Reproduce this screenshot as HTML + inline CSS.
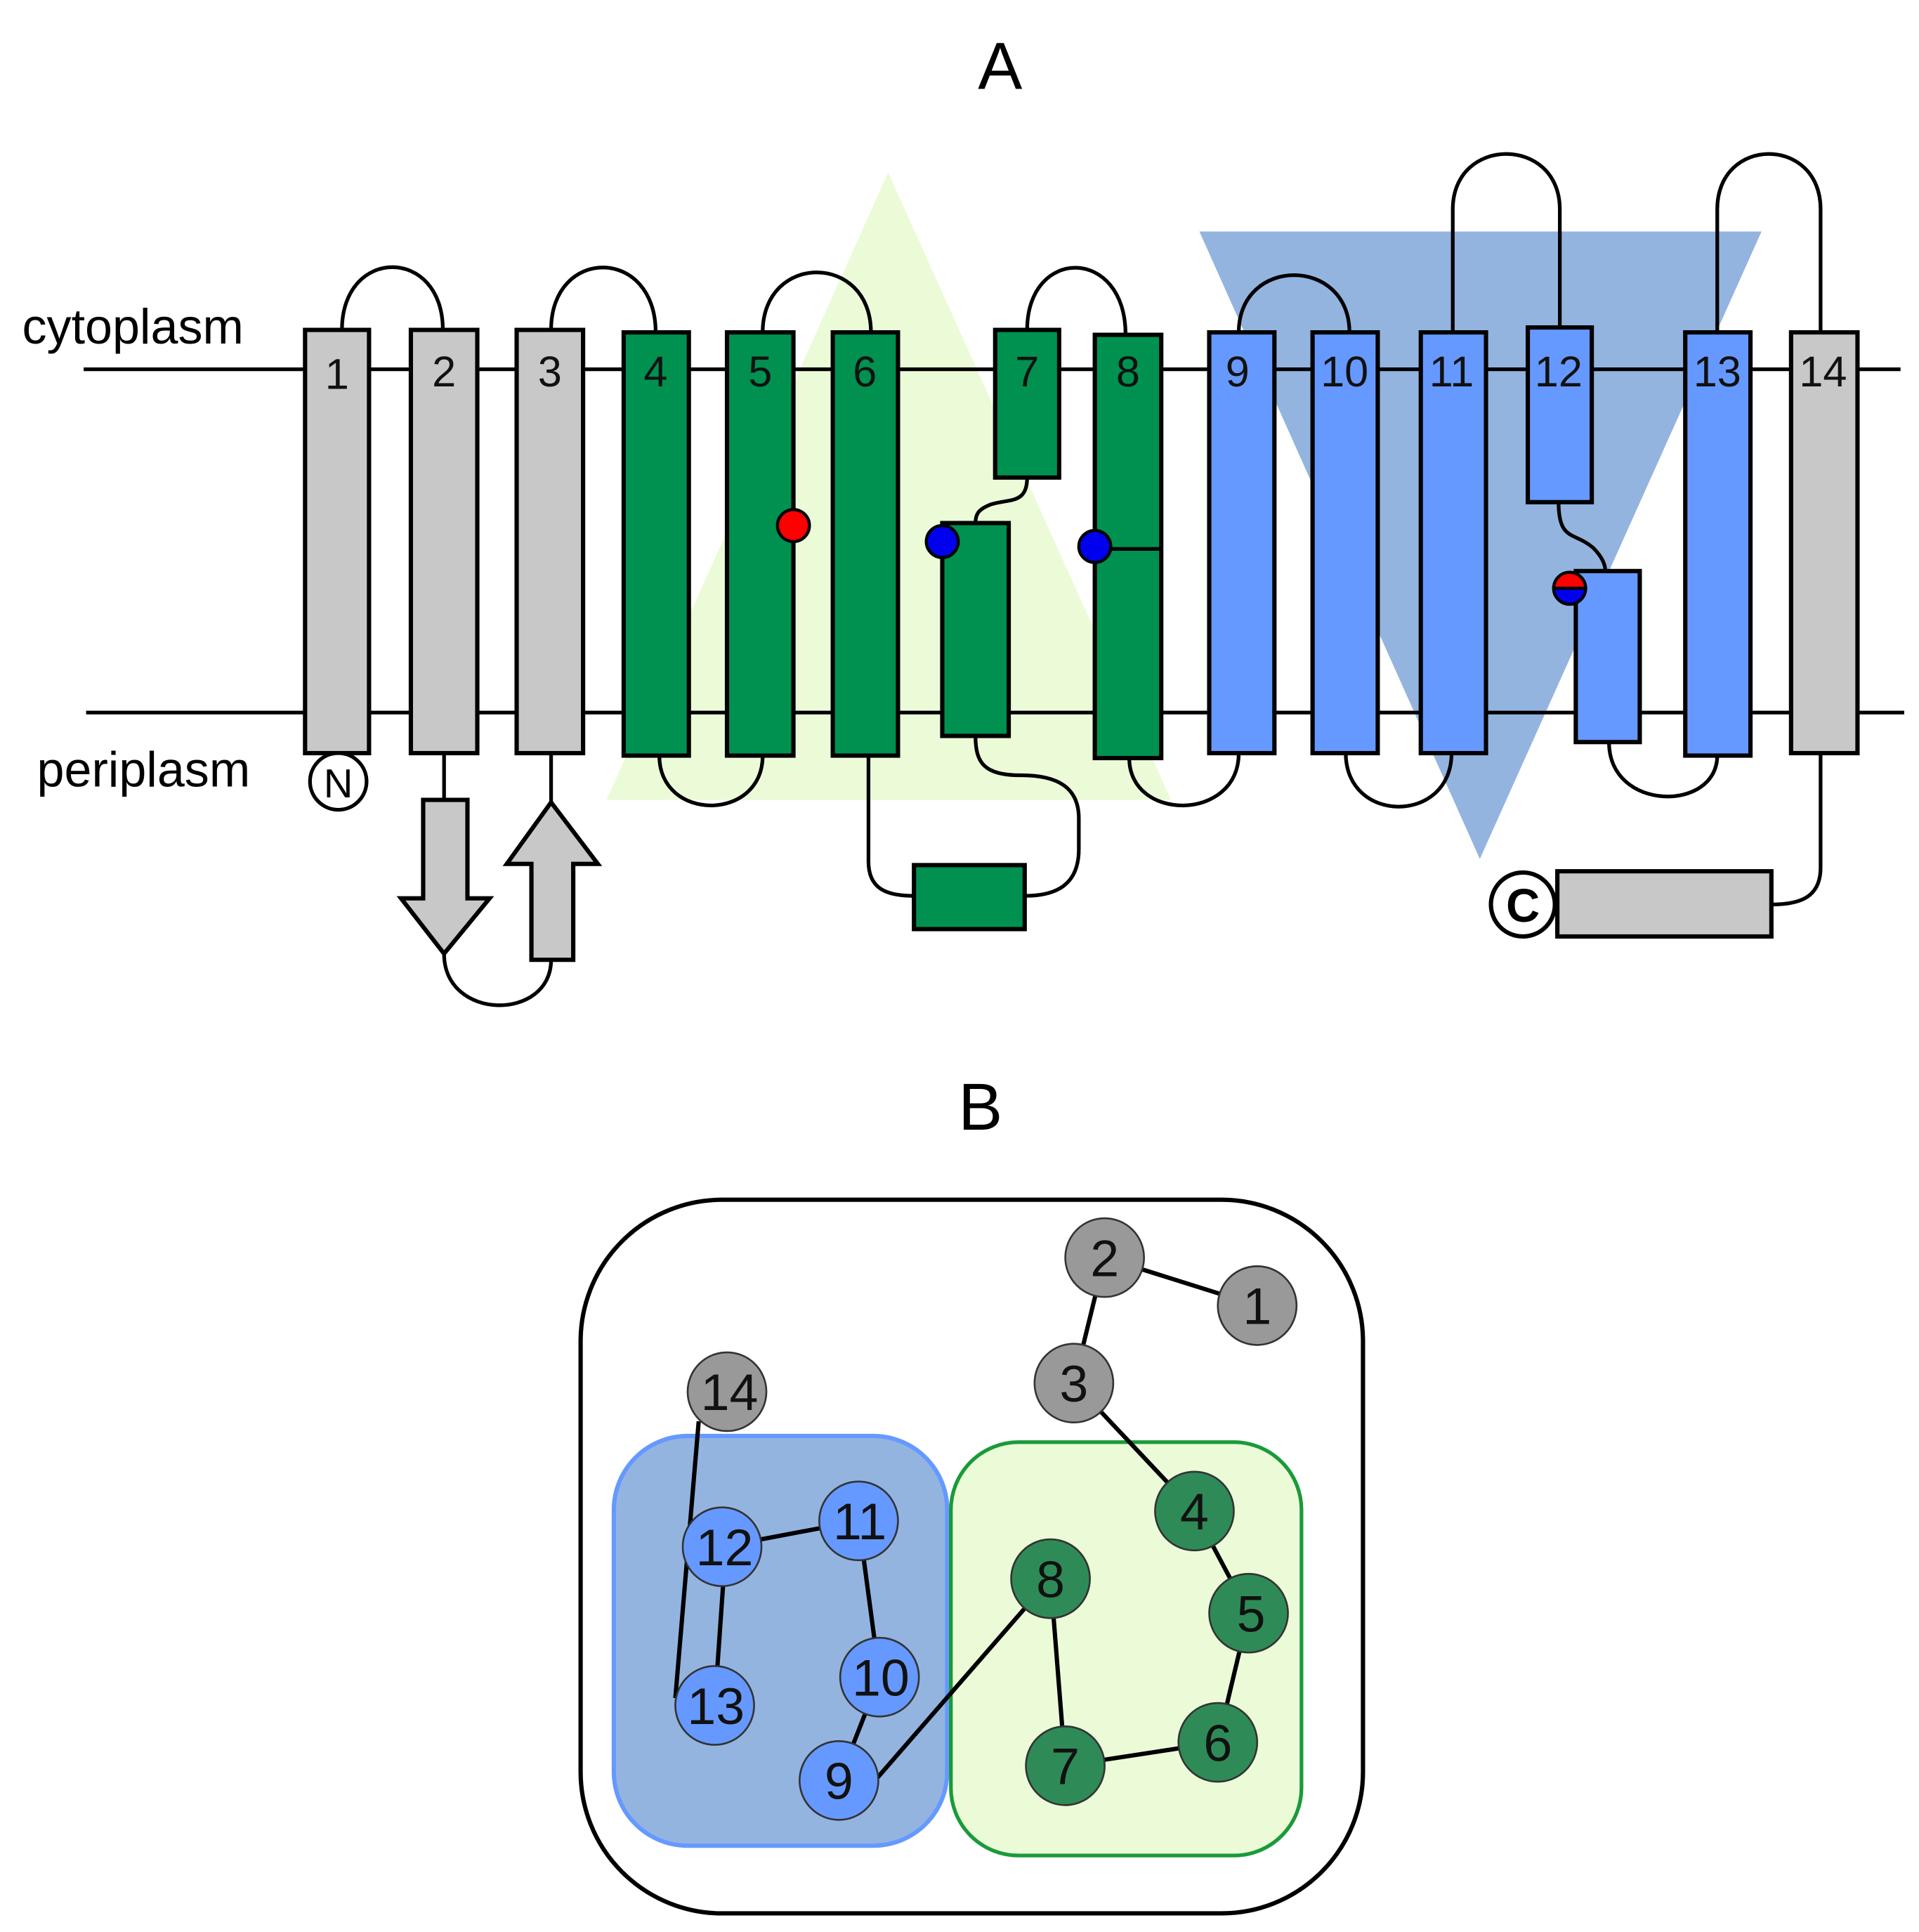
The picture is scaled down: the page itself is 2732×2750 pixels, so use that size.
<!DOCTYPE html>
<html><head><meta charset="utf-8"><style>html,body{margin:0;padding:0;background:#fff}svg{display:block}</style></head>
<body>
<svg width="2732" height="2750" viewBox="0 0 1560 1570" xmlns="http://www.w3.org/2000/svg" font-family="Liberation Sans, sans-serif">
<rect width="1560" height="1570" fill="#fff"/>
<text x="813" y="72" font-size="54" text-anchor="middle">A</text>
<text x="797" y="918" font-size="54" text-anchor="middle">B</text>
<polygon points="722,140 493,650 952,650" fill="#ebfbd8"/>
<polygon points="975,188 1432,188 1203,698" fill="#94b4e0"/>
<g stroke="#000" stroke-width="3" fill="none">
<line x1="68" y1="300" x2="1545" y2="300"/>
<line x1="70" y1="579" x2="1548" y2="579"/>
</g>
<text x="18" y="279" font-size="40">cytoplasm</text>
<text x="30" y="639" font-size="40">periplasm</text>
<g stroke="#000" stroke-width="3" fill="none">
<path d="M278,268 C278,200 360,200 360,268"/>
<path d="M448,268 C448,200 533,200 533,270"/>
<path d="M620,270 C620,205 708,205 708,270"/>
<path d="M835,268 C835,200 915,200 915,272"/>
<path d="M1007,270 C1007,208 1097,208 1097,270"/>
<path d="M1181,270 L1181,170 C1181,110 1268,110 1268,170 L1268,266"/>
<path d="M1396,270 L1396,170 C1396,110 1480,110 1480,170 L1480,270"/>
<path d="M536,614 C536,668 620,668 620,614"/>
<path d="M918,616 C918,668 1007,668 1007,612"/>
<path d="M1094,612 C1094,670 1180,670 1180,612"/>
<path d="M1308,603 C1308,660 1396,660 1396,614"/>
<path d="M706,614 L706,700 C706,722 720,728 743,728"/>
<path d="M833,728 C860,728 877,718 877,690 L877,665 C877,640 860,630 830,630 C800,630 793,620 793,598"/>
<path d="M835,388 C835,410 820,405 805,410 C795,414 793,418 793,425"/>
<path d="M1267,408 C1267,440 1280,432 1295,445 C1302,452 1305,458 1305,464"/>
<path d="M1480,612 L1480,705 C1480,728 1465,735 1440,735"/>
<path d="M361,612 L361,650"/>
<path d="M448,612 L448,652"/>
<path d="M361,775 C361,830 448,830 448,780"/>
</g>
<g stroke="#000" stroke-width="3.5">
<rect x="248" y="268" width="52" height="344" fill="#c8c8c8"/>
<rect x="334" y="268" width="54" height="344" fill="#c8c8c8"/>
<rect x="420" y="268" width="54" height="344" fill="#c8c8c8"/>
<rect x="507" y="270" width="53" height="344" fill="#009150"/>
<rect x="591" y="270" width="54" height="344" fill="#009150"/>
<rect x="677" y="270" width="53" height="344" fill="#009150"/>
<rect x="809" y="268" width="52" height="120" fill="#009150"/>
<rect x="766" y="425" width="54" height="173" fill="#009150"/>
<rect x="890" y="272" width="54" height="344" fill="#009150"/>
<rect x="743" y="703" width="90" height="52" fill="#009150"/>
<rect x="983" y="270" width="53" height="342" fill="#6699ff"/>
<rect x="1067" y="270" width="53" height="342" fill="#6699ff"/>
<rect x="1155" y="270" width="53" height="342" fill="#6699ff"/>
<rect x="1242" y="266" width="52" height="142" fill="#6699ff"/>
<rect x="1281" y="464" width="52" height="139" fill="#6699ff"/>
<rect x="1370" y="270" width="53" height="344" fill="#6699ff"/>
<rect x="1456" y="270" width="54" height="342" fill="#c8c8c8"/>
<rect x="1266" y="708" width="174" height="53" fill="#c8c8c8"/>
<polygon points="344,650 380,650 380,730 398,730 361,775 326,730 344,730" fill="#c8c8c8"/>
<polygon points="448,652 486,702 466,702 466,780 432,780 432,702 412,702" fill="#c8c8c8"/>
</g>
<line x1="890" y1="446" x2="944" y2="446" stroke="#000" stroke-width="3"/>
<g font-size="35" text-anchor="middle" fill="#111">
<text x="274" y="316">1</text><text x="361" y="314">2</text><text x="447" y="314">3</text>
<text x="533" y="314">4</text><text x="618" y="314">5</text><text x="703" y="314">6</text>
<text x="835" y="314">7</text><text x="917" y="314">8</text><text x="1006" y="314">9</text>
<text x="1093" y="314">10</text><text x="1180" y="314">11</text><text x="1267" y="314">12</text>
<text x="1396" y="314">13</text><text x="1482" y="314">14</text>
</g>
<g stroke="#000" stroke-width="2.5">
<circle cx="645" cy="427" r="13" fill="#ff0000"/>
<circle cx="766" cy="440" r="13" fill="#0000ee"/>
<circle cx="890" cy="444" r="13" fill="#0000ee"/>
<path d="M1263,478 A13,13 0 0 1 1289,478 Z" fill="#ff0000"/>
<path d="M1263,478 A13,13 0 0 0 1289,478 Z" fill="#0000ee"/>
</g>
<circle cx="275" cy="635" r="23" fill="#fff" stroke="#000" stroke-width="3"/>
<text x="275" y="648" font-size="33" text-anchor="middle">N</text>
<circle cx="1238" cy="735" r="26" fill="#fff" stroke="#000" stroke-width="3.5"/>
<text x="1238" y="749" font-size="38" font-weight="bold" text-anchor="middle">C</text>
<rect x="472" y="975" width="636" height="580" rx="115" fill="#fff" stroke="#000" stroke-width="3.5"/>
<rect x="499" y="1167" width="271" height="333" rx="60" fill="#94b4e0" stroke="#6699ff" stroke-width="3.5"/>
<rect x="773" y="1172" width="285" height="336" rx="55" fill="#ebfbd8" stroke="#1a9a3a" stroke-width="3"/>
<g stroke="#000" stroke-width="3.5">
<line x1="898" y1="1022" x2="1022" y2="1061"/>
<line x1="898" y1="1022" x2="873" y2="1124"/>
<line x1="873" y1="1124" x2="971" y2="1228"/>
<line x1="971" y1="1228" x2="1015" y2="1311"/>
<line x1="1015" y1="1311" x2="990" y2="1416"/>
<line x1="990" y1="1416" x2="866" y2="1435"/>
<line x1="866" y1="1435" x2="854" y2="1283"/>
<line x1="854" y1="1283" x2="700" y2="1460"/>
<line x1="682" y1="1447" x2="715" y2="1363"/>
<line x1="715" y1="1363" x2="698" y2="1236"/>
<line x1="698" y1="1236" x2="587" y2="1257"/>
<line x1="590" y1="1257" x2="581" y2="1386"/>
<line x1="568" y1="1155" x2="549" y2="1380"/>
</g>
<g stroke="#333" stroke-width="1.5">
<circle cx="898" cy="1022" r="32" fill="#999"/>
<circle cx="1022" cy="1061" r="32" fill="#999"/>
<circle cx="873" cy="1124" r="32" fill="#999"/>
<circle cx="591" cy="1131" r="32" fill="#999"/>
<circle cx="971" cy="1228" r="32" fill="#2e8b57"/>
<circle cx="1015" cy="1311" r="32" fill="#2e8b57"/>
<circle cx="990" cy="1416" r="32" fill="#2e8b57"/>
<circle cx="866" cy="1435" r="32" fill="#2e8b57"/>
<circle cx="854" cy="1283" r="32" fill="#2e8b57"/>
<circle cx="587" cy="1257" r="32" fill="#6699ff"/>
<circle cx="698" cy="1236" r="32" fill="#6699ff"/>
<circle cx="715" cy="1363" r="32" fill="#6699ff"/>
<circle cx="581" cy="1386" r="32" fill="#6699ff"/>
<circle cx="682" cy="1447" r="32" fill="#6699ff"/>
</g>
<g font-size="42" text-anchor="middle" fill="#111">
<text x="898" y="1037">2</text><text x="1022" y="1076">1</text><text x="873" y="1139">3</text>
<text x="593" y="1146">14</text><text x="971" y="1243">4</text><text x="1017" y="1326">5</text>
<text x="990" y="1431">6</text><text x="866" y="1450">7</text><text x="854" y="1298">8</text>
<text x="589" y="1272">12</text><text x="699" y="1251">11</text><text x="716" y="1378">10</text>
<text x="582" y="1401">13</text><text x="682" y="1462">9</text>
</g>
</svg>
</body></html>
